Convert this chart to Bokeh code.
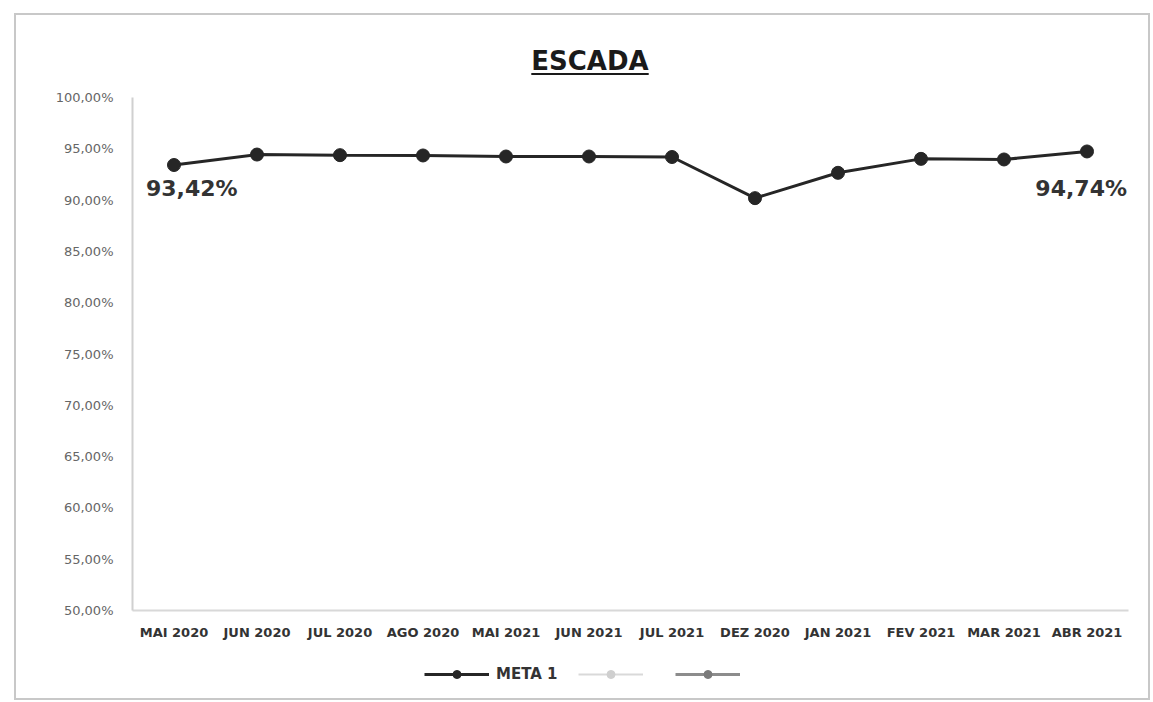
from bokeh.plotting import figure
from bokeh.layouts import column
from bokeh.models import (ColumnDataSource, FactorRange, Range1d, FixedTicker,
                          CustomJSTickFormatter, Legend, LegendItem, Div)
from bokeh.core.properties import value
from bokeh.embed import file_html
from bokeh.resources import INLINE

# Monthly values of the META 1 series
months = ["MAI 2020", "JUN 2020", "JUL 2020", "AGO 2020", "MAI 2021", "JUN 2021",
          "JUL 2021", "DEZ 2020", "JAN 2021", "FEV 2021", "MAR 2021", "ABR 2021"]
meta1 = [93.42, 94.44, 94.38, 94.35, 94.25, 94.25, 94.2, 90.19, 92.66, 94.02, 93.96, 94.74]
y_ticks = [50, 55, 60, 65, 70, 75, 80, 85, 90, 95, 100]
title_text = "ESCADA"
series_name = "META 1"

INNER_W = 1132
FONT = "DejaVu Sans"

# title block (underlined heading)
title = Div(text=(f'<u style="text-decoration-thickness:2px;'
                  f'text-underline-offset:3px;">{title_text}</u>'),
            width=INNER_W, height=70, margin=0,
            styles={"text-align": "center", "padding-left": "16px",
                    "padding-top": "33px", "box-sizing": "border-box",
                    "font-family": FONT, "font-weight": "bold", "font-size": "26px",
                    "color": "#1a1a1a", "line-height": "26px"})

# main chart
p = figure(width=INNER_W, height=565, x_range=FactorRange(*months, range_padding=0),
           y_range=Range1d(50, 100), output_backend="svg", toolbar_location=None,
           min_border_left=116, min_border_right=20, min_border_top=12,
           min_border_bottom=40, margin=0)
p.background_fill_color = "white"
p.border_fill_color = "white"
p.outline_line_color = None
p.grid.visible = False

p.yaxis.ticker = FixedTicker(ticks=y_ticks)
p.yaxis.formatter = CustomJSTickFormatter(
    code="return tick.toFixed(2).replace('.', ',') + '%';")
p.yaxis.major_tick_line_color = None
p.yaxis.minor_tick_line_color = None
p.yaxis.major_tick_out = 0
p.yaxis.major_tick_in = 0
p.yaxis.axis_line_color = "#d0d0d0"
p.yaxis.axis_line_width = 2
p.yaxis.major_label_text_font = FONT
p.yaxis.major_label_text_font_size = "13px"
p.yaxis.major_label_text_color = "#666666"
p.yaxis.major_label_standoff = 19

p.xaxis.major_tick_line_color = None
p.xaxis.minor_tick_line_color = None
p.xaxis.major_tick_out = 0
p.xaxis.major_tick_in = 0
p.xaxis.axis_line_color = "#d8d8d8"
p.xaxis.axis_line_width = 2
p.xaxis.major_label_text_font = FONT
p.xaxis.major_label_text_font_style = "bold"
p.xaxis.major_label_text_font_size = "13px"
p.xaxis.major_label_text_color = "#333333"
p.xaxis.major_label_standoff = 14

src = ColumnDataSource(dict(x=months, y=meta1))
r_line = p.line("x", "y", source=src, line_color="#262626", line_width=3)
r_pts = p.scatter("x", "y", source=src, size=13, fill_color="#262626",
                  line_color="#262626")

# first and last value labels
lab = ColumnDataSource(dict(
    x=[months[0], months[-1]], y=[meta1[0], meta1[-1]],
    t=[f"{v:.2f}".replace(".", ",") + "%" for v in (meta1[0], meta1[-1])],
    align=["left", "right"], xo=[-28, 40], yo=[11, 25]))
p.text("x", "y", text="t", source=lab, text_align="align", x_offset="xo",
       y_offset="yo", text_baseline="top", text_font=value(FONT),
       text_font_style="bold", text_font_size="22px", text_color="#333333")

# legend strip: keys are drawn from off-range points so only the legend shows
lg = figure(width=INNER_W, height=48, x_range=Range1d(0, 1), y_range=Range1d(0, 1),
            output_backend="svg", toolbar_location=None, min_border=0, margin=0)
lg.axis.visible = False
lg.grid.visible = False
lg.outline_line_color = None
lg.background_fill_color = "white"
lg.border_fill_color = "white"
off = ColumnDataSource(dict(x=[-5, -4], y=[-5, -5]))
k0 = lg.line("x", "y", source=off, line_color="#262626", line_width=3)
k0m = lg.scatter("x", "y", source=off, size=10, fill_color="#262626", line_color="#262626")
k1 = lg.line("x", "y", source=off, line_color="#d9d9d9", line_width=2)
k1m = lg.scatter("x", "y", source=off, size=7, fill_color="#cfcfcf", line_color="#cfcfcf")
k2 = lg.line("x", "y", source=off, line_color="#8c8c8c", line_width=3)
k2m = lg.scatter("x", "y", source=off, size=8, fill_color="#7a7a7a", line_color="#7a7a7a")
legend = Legend(items=[LegendItem(label=value(series_name), renderers=[k0, k0m]),
                       LegendItem(label=value("\u00a0"), renderers=[k1, k1m]),
                       LegendItem(label=value("\u00a0"), renderers=[k2, k2m])],
                orientation="horizontal", location=(292, 14),
                label_text_font=FONT, label_text_font_style="bold",
                label_text_font_size="15px", label_text_color="#333333",
                glyph_width=65, label_width=0, label_standoff=7, spacing=20,
                border_line_color=None, background_fill_alpha=0, margin=0, padding=0)
lg.add_layout(legend, "center")

layout = column(title, p, lg, spacing=0, margin=(13, 0, 0, 14),
                styles={"border": "2px solid #c8c8c8", "background": "white"})

open("out.html", "w").write(file_html(layout, INLINE))
